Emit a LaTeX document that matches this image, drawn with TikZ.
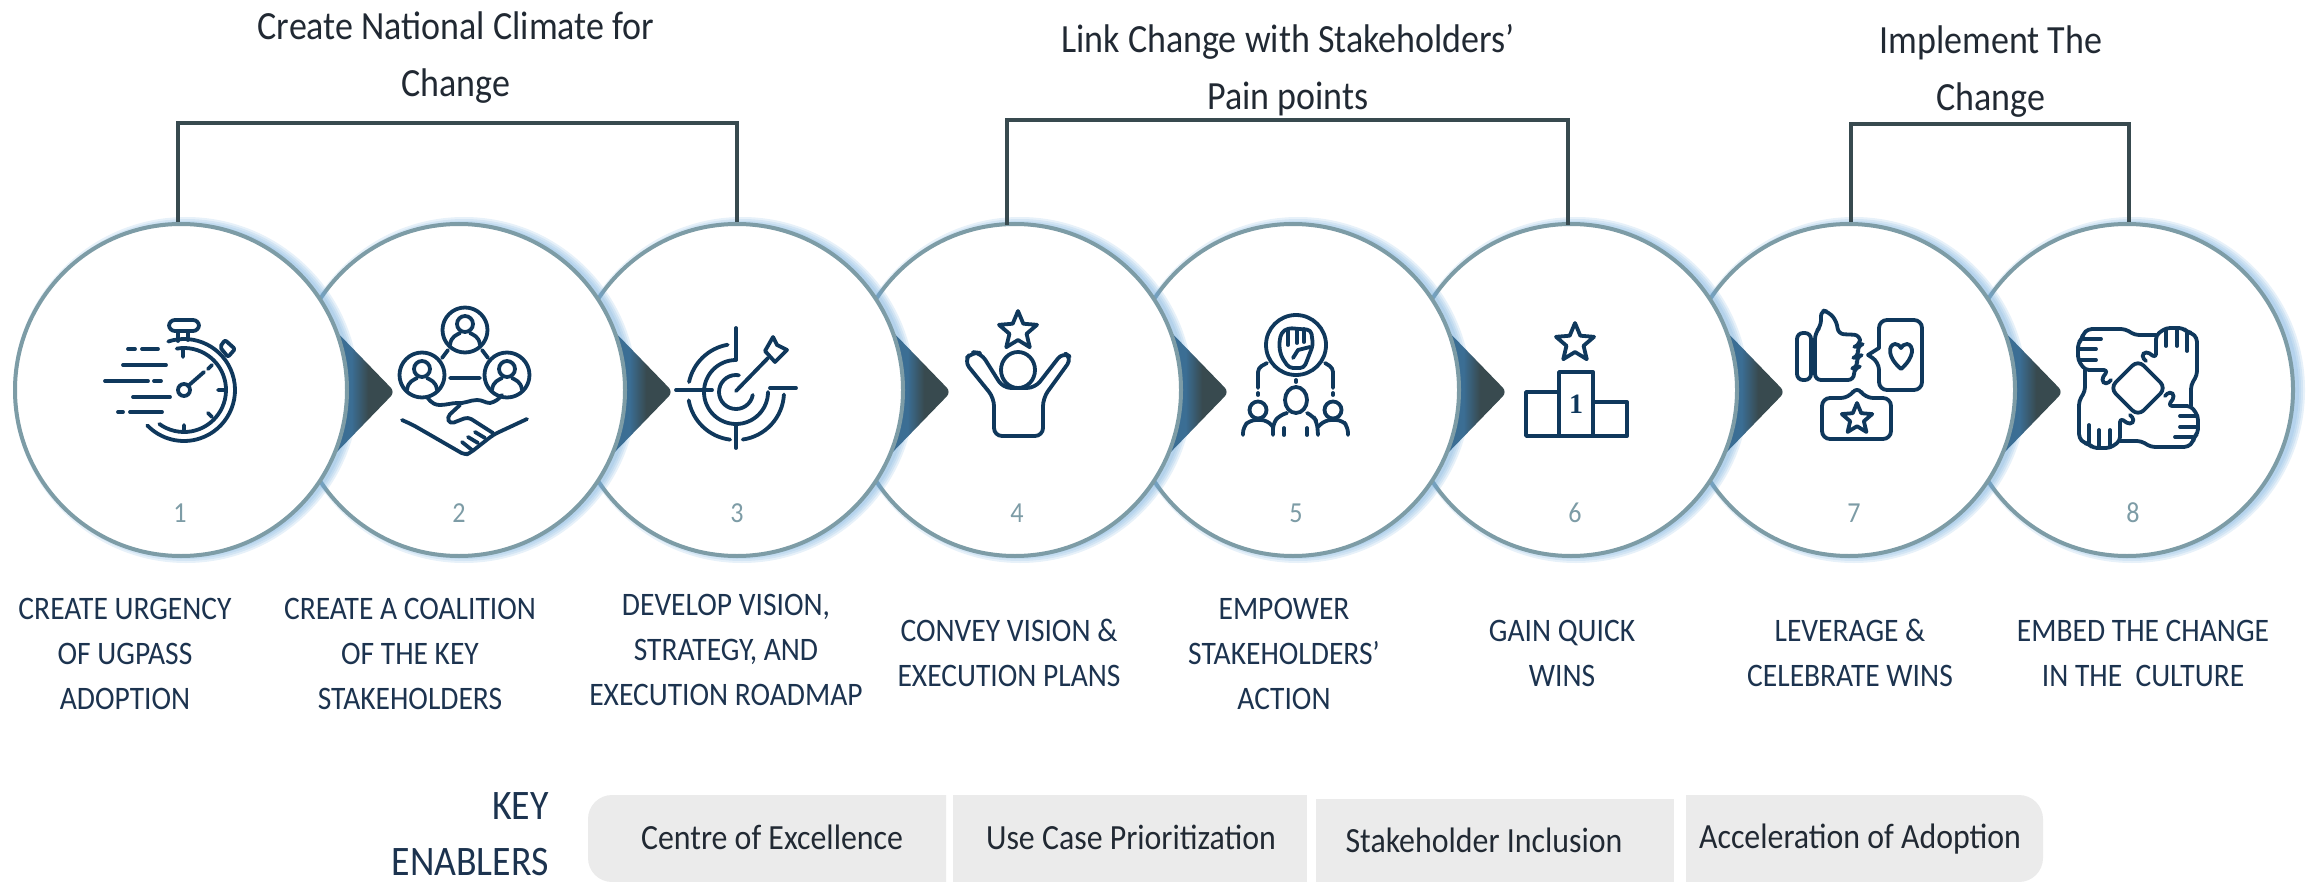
\documentclass[tikz,border=0pt]{standalone}
\usepackage{fontspec}
\setmainfont[FakeStretch=0.9]{Carlito}
\newfontfamily\podiumfont{Liberation Serif}
\definecolor{mynavy}{rgb}{0.06,0.22,0.36}
\definecolor{mytext}{rgb}{0.11,0.2,0.31}
\definecolor{myink}{rgb}{0.13,0.16,0.2}
\definecolor{mysteel}{rgb}{0.49,0.61,0.65}
\definecolor{myglow}{rgb}{0.42,0.66,0.86}
\definecolor{myslate}{rgb}{0.22,0.29,0.31}
\definecolor{myblue}{rgb}{0.23,0.43,0.58}
\definecolor{mybox}{rgb}{0.92,0.92,0.92}
\pgfdeclarehorizontalshading{chevronshade}{100bp}{color(0bp)=(myblue); color(41bp)=(myblue); color(54bp)=(myslate); color(100bp)=(myslate)}
\tikzset{
	stepdisc/.style={circle,draw=mysteel,fill=white,line width=2pt,minimum size=166pt,inner sep=0pt},
	stepnum/.style={text=mysteel,font=\fontsize{14.5}{14.5}\selectfont},
	steptext/.style={text=mytext,align=center,font=\fontsize{16.4}{22.5}\selectfont},
	headtext/.style={text=myink,align=center,font=\fontsize{20}{28.5}\selectfont},
	enablertext/.style={text=myink,font=\fontsize{17.7}{18}\selectfont},
	keytext/.style={text=mytext,align=right,anchor=east,inner sep=0pt,font=\fontsize{21}{28}\selectfont},
	bracket/.style={draw=myslate,line width=1.6pt},
	iconline/.style={draw=mynavy,line width=1.9pt,line cap=round,line join=round}
}
\newcommand{\stepglow}[1]{
	\fill[myglow,opacity=0.16] (#1+5,390) circle[radius=173];
	\fill[myglow,opacity=0.16] (#1+5,390) circle[radius=171];
	\fill[myglow,opacity=0.16] (#1+5,390) circle[radius=169];
	\fill[myglow,opacity=0.16] (#1+5,390) circle[radius=167];
}
\newcommand{\stepchevron}[1]{
	\shade[shading=chevronshade,shift={(#1,0)}] (331,326) [rounded corners=3pt] -- (395,392) [sharp corners] -- (331,458) -- cycle;
}
\newcommand{\iconstar}[3]{
	\draw[iconline,shift={(#1,#2)},scale=#3] (-90:1) -- (-54:.45) -- (-18:1) -- (18:.45) -- (54:1) -- (90:.45) -- (126:1) -- (162:.45) -- (198:1) -- (234:.45) -- cycle;
}
\newcommand{\iconperson}[2]{
	\draw[iconline,shift={(#1,#2)}] (0,0) circle[radius=22.5];
	\draw[iconline,shift={(#1,#2)}] (0,-6) circle[radius=8];
	\draw[iconline,shift={(#1,#2)}] (-15,15) .. controls (-14,6) and (-8,5) .. (-5,3) (5,3) .. controls (8,5) and (14,6) .. (15,15);
}
\newcommand{\iconhand}[1]{
	\draw[iconline,shift={(2138,388)},rotate=#1,rounded corners=2pt] (18,-53) -- (-3,-53) -- (-13,-59) -- (-50,-59) -- (-55,-54) -- (-56,-49) -- (-60,-45) -- (-60,-28) -- (-53,-18) -- (-30,-18) -- (-37,-8) -- (-32,-3) -- (-27,-8);
	\draw[iconline,shift={(2138,388)},rotate=#1] (-55,-49) -- (-37,-49) (-60,-39) -- (-42,-39) (-59,-28) -- (-42,-28);
}
\begin{document}
\begin{tikzpicture}[x=0.5pt,y=-0.5pt]
	\useasboundingbox (0,0) rectangle (2306,882);

	% Draw the circles from the last to the first, with the chevrons between them
	\stepglow{2127}
	\node[stepdisc] (step8) at (2127,390) {};
	\stepglow{1849}
	\stepchevron{1668}
	\node[stepdisc] (step7) at (1849,390) {};
	\stepglow{1571}
	\stepchevron{1390}
	\node[stepdisc] (step6) at (1571,390) {};
	\stepglow{1293}
	\stepchevron{1112}
	\node[stepdisc] (step5) at (1293,390) {};
	\stepglow{1015}
	\stepchevron{834}
	\node[stepdisc] (step4) at (1015,390) {};
	\stepglow{737}
	\stepchevron{556}
	\node[stepdisc] (step3) at (737,390) {};
	\stepglow{459}
	\stepchevron{278}
	\node[stepdisc] (step2) at (459,390) {};
	\stepglow{181}
	\stepchevron{0}
	\node[stepdisc] (step1) at (181,390) {};

	% Draw the numbers
	\node[stepnum] (num1) at (180,513) {1};
	\node[stepnum] (num2) at (459,513) {2};
	\node[stepnum] (num3) at (737,513) {3};
	\node[stepnum] (num4) at (1017,513) {4};
	\node[stepnum] (num5) at (1296,513) {5};
	\node[stepnum] (num6) at (1575,513) {6};
	\node[stepnum] (num7) at (1854,513) {7};
	\node[stepnum] (num8) at (2133,513) {8};

	% Draw the brackets and their titles
	\coordinate (top1) at (458,123);
	\coordinate (top2) at (1288,120);
	\coordinate (top3) at (1990,124);
	\draw[bracket] ([xshift=-1.5pt]step1.north) |- (top1) -| (step3.north);
	\draw[bracket] ([shift={(-4pt,-1.5pt)}]step4.north) |- (top2) -| ([shift={(-1.5pt,-1.5pt)}]step6.north);
	\draw[bracket] ([xshift=1pt]step7.north) |- (top3) -| ([xshift=1pt]step8.north);
	\node[headtext] (head1) at (456,58) {Create National Climate for\\Change};
	\node[headtext] (head2) at (1288,70) {Link Change with Stakeholders’\\Pain points};
	\node[headtext] (head3) at (1991,72) {Implement The\\Change};

	% Label the steps
	\node[steptext] (text1) at (125,654) {CREATE URGENCY\\OF UGPASS\\ADOPTION};
	\node[steptext] (text2) at (410,654) {CREATE A COALITION\\OF THE KEY\\STAKEHOLDERS};
	\node[steptext] (text3) at (726,650) {DEVELOP VISION,\\STRATEGY, AND\\EXECUTION ROADMAP};
	\node[steptext] (text4) at (1009,653) {CONVEY VISION \&\\EXECUTION PLANS};
	\node[steptext] (text5) at (1284,654) {EMPOWER\\STAKEHOLDERS’\\ACTION};
	\node[steptext] (text6) at (1562,653) {GAIN QUICK\\WINS};
	\node[steptext] (text7) at (1850,653) {LEVERAGE \&\\CELEBRATE WINS};
	\node[steptext] (text8) at (2143,653) {EMBED THE CHANGE\\IN THE\ \ CULTURE};

	% Draw the key enablers
	\fill[mybox] (946,795) [rounded corners=12pt] -- (588,795) -- (588,882) [sharp corners] -- (946,882) -- cycle;
	\fill[mybox] (953,795) rectangle (1307,882);
	\fill[mybox] (1316,799) rectangle (1674,882);
	\fill[mybox] (1686,795) [rounded corners=12pt] -- (2043,795) -- (2043,882) [sharp corners] -- (1686,882) -- cycle;
	\node[enablertext] (box1) at (772,837) {Centre of Excellence};
	\node[enablertext] (box2) at (1131,837) {Use Case Prioritization};
	\node[enablertext] (box3) at (1484,840) {Stakeholder Inclusion};
	\node[enablertext] (box4) at (1860,839) {Acceleration of Adoption};
	\node[keytext] (keyenablers) at (549,834) {KEY\\ENABLERS};

	% Icon 1, the stopwatch
	\draw[iconline] (184,390) ++(-108:51) arc[start angle=-108,end angle=136,radius=51];
	\draw[iconline] (184,390) ++(-100:42) arc[start angle=-100,end angle=126,radius=42];
	\draw[iconline,rounded corners=3pt] (169,320) rectangle (199,331);
	\draw[iconline] (178,331) -- (178,341) (188,331) -- (188,340);
	\draw[iconline,rounded corners=1pt] (220,347) -- (225,340) -- (235,349) -- (228,357) -- cycle;
	\draw[iconline] (184,390) circle[radius=6];
	\draw[iconline] (188,386) -- (204,372);
	\draw[iconline] (183,350) -- (183,357) (218,390) -- (225,390) (184,425) -- (184,432) (208,369) -- (212,365) (208,413) -- (212,417);
	\draw[iconline] (128,349) -- (135,349) (142,349) -- (158,349);
	\draw[iconline] (123,365) -- (166,365);
	\draw[iconline] (105,381) -- (148,381) (154,381) -- (161,381);
	\draw[iconline] (133,397) -- (170,397);
	\draw[iconline] (118,412) -- (123,412) (130,412) -- (162,412);

	% Icon 2, the coalition
	\iconperson{465}{330}
	\iconperson{422}{375}
	\iconperson{507}{375}
	\draw[iconline] (448,350) -- (442,358) (482,350) -- (488,358) (450,378) -- (480,378);
	\draw[iconline] (427,397) .. controls (432,404) and (436,405) .. (440,405) .. controls (446,405) and (452,403) .. (457,403) .. controls (464,404) and (470,400) .. (477,400) .. controls (483,400) and (485,403) .. (490,403) .. controls (495,402) and (499,399) .. (502,395);
	\draw[iconline,rounded corners=2pt] (402,420) -- (413,425) -- (465,455) -- (470,453) -- (493,435) -- (497,433) -- (527,419);
	\draw[iconline,rounded corners=2pt] (460,405) -- (447,417) -- (450,424) -- (468,417) -- (493,433);
	\draw[iconline] (462,442) -- (472,450) (468,437) -- (478,443) (475,432) -- (485,438);

	% Icon 3, the target
	\draw[iconline] (736,392) ++(-100:48) arc[start angle=-100,end angle=-168,radius=48];
	\draw[iconline] (736,392) ++(170:48) arc[start angle=170,end angle=97,radius=48];
	\draw[iconline] (736,392) ++(82:48) arc[start angle=82,end angle=3,radius=48];
	\draw[iconline] (736,392) ++(-90:32) arc[start angle=-90,end angle=-360,radius=32];
	\draw[iconline] (736,392) ++(-80:17) arc[start angle=-80,end angle=-350,radius=17];
	\draw[iconline] (736,328) -- (736,360) (736,424) -- (736,448);
	\draw[iconline] (676,390) -- (712,390) (770,388) -- (796,388);
	\draw[iconline] (736,391) -- (768,358);
	\draw[iconline] (765,351) -- (773,337) -- (777,345) -- (787,350) -- (775,362) -- (765,351);

	% Icon 4, the raised arms
	\iconstar{1018}{331}{20}
	\draw[iconline] (1018,370) circle[x radius=17,y radius=18];
	\draw[iconline,rounded corners=4pt] (994,398) -- (994,436) -- (1043,436) -- (1043,398) -- (1072,358) -- (1063,352) -- (1035,388) -- (1003,388) -- (981,353) -- (972,352) -- (964,361) -- cycle;

	% Icon 5, the fist above the team
	\draw[iconline] (1296,345) circle[radius=30];
	\draw[iconline,rounded corners=2pt] (1281,333) -- (1279,345) -- (1281,356) -- (1289,368) -- (1304,368) -- (1308,358) -- (1313,345) -- (1311,330) -- (1288,328) -- cycle;
	\draw[iconline] (1288,330) -- (1288,345) (1297,329) -- (1297,343) (1304,329) -- (1304,342);
	\draw[iconline] (1293,358) -- (1298,350) -- (1310,347);
	\draw[iconline,rounded corners=2pt] (1267,363) -- (1258,368) -- (1258,388);
	\draw[iconline,rounded corners=2pt] (1325,363) -- (1333,368) -- (1333,388);
	\draw[iconline] (1296,380) -- (1296,382) (1258,393) -- (1258,395) (1333,393) -- (1333,395);
	\draw[iconline] (1296,400) circle[x radius=11,y radius=13];
	\draw[iconline,rounded corners=3pt] (1273,435) -- (1273,423) -- (1280,415) -- (1287,413);
	\draw[iconline,rounded corners=3pt] (1318,435) -- (1317,422) -- (1313,416) -- (1307,413);
	\draw[iconline] (1284,428) -- (1284,435) (1307,428) -- (1307,435);
	\draw[iconline] (1258,410) circle[radius=8.5];
	\draw[iconline] (1333,410) circle[radius=8.5];
	\draw[iconline,rounded corners=3pt] (1243,435) -- (1243,427) -- (1250,420) -- (1267,420) -- (1273,427);
	\draw[iconline,rounded corners=3pt] (1348,435) -- (1348,427) -- (1342,420) -- (1325,420) -- (1318,427);

	% Icon 6, the podium
	\iconstar{1575}{343}{20}
	\draw[iconline] (1559,372) rectangle (1593,436);
	\draw[iconline] (1526,392) rectangle (1559,436);
	\draw[iconline] (1593,402) rectangle (1627,436);
	\node[text=mynavy,font=\podiumfont\bfseries\fontsize{14}{14}\selectfont] (first) at (1576,404) {1};

	% Icon 7, the thumb, the heart and the star
	\draw[iconline,rounded corners=3pt] (1797,333) rectangle (1811,380);
	\draw[iconline,rounded corners=3pt] (1815,333) -- (1821,326) -- (1821,310) -- (1829,312) -- (1837,322) -- (1838,334) -- (1860,335) -- (1860,345) -- (1857,346) -- (1859,356) -- (1856,357) -- (1858,367) -- (1854,368) -- (1854,380) -- (1815,380) -- cycle;
	\draw[iconline,rounded corners=4pt] (1879,320) -- (1922,320) -- (1922,390) -- (1879,390) -- (1879,362) [sharp corners] -- (1868,355) -- (1879,348) [rounded corners=4pt] -- cycle;
	\draw[iconline] (1901,369) .. controls (1887,357) and (1888,345) .. (1895,344) .. controls (1898,344) and (1900,346) .. (1901,348) .. controls (1902,346) and (1904,344) .. (1907,344) .. controls (1914,345) and (1915,357) .. (1901,369) -- cycle;
	\draw[iconline,rounded corners=4pt] (1849,398) -- (1857,386) -- (1865,398) -- (1891,398) -- (1891,439) -- (1822,439) -- (1822,398) -- cycle;
	\iconstar{1857}{419}{16}

	% Icon 8, the four hands
	\draw[iconline,rounded corners=4pt] (2138,360) -- (2166,388) -- (2138,416) -- (2110,388) -- cycle;
	\iconhand{0}
	\iconhand{90}
	\iconhand{180}
	\iconhand{270}
\end{tikzpicture}
\end{document}
